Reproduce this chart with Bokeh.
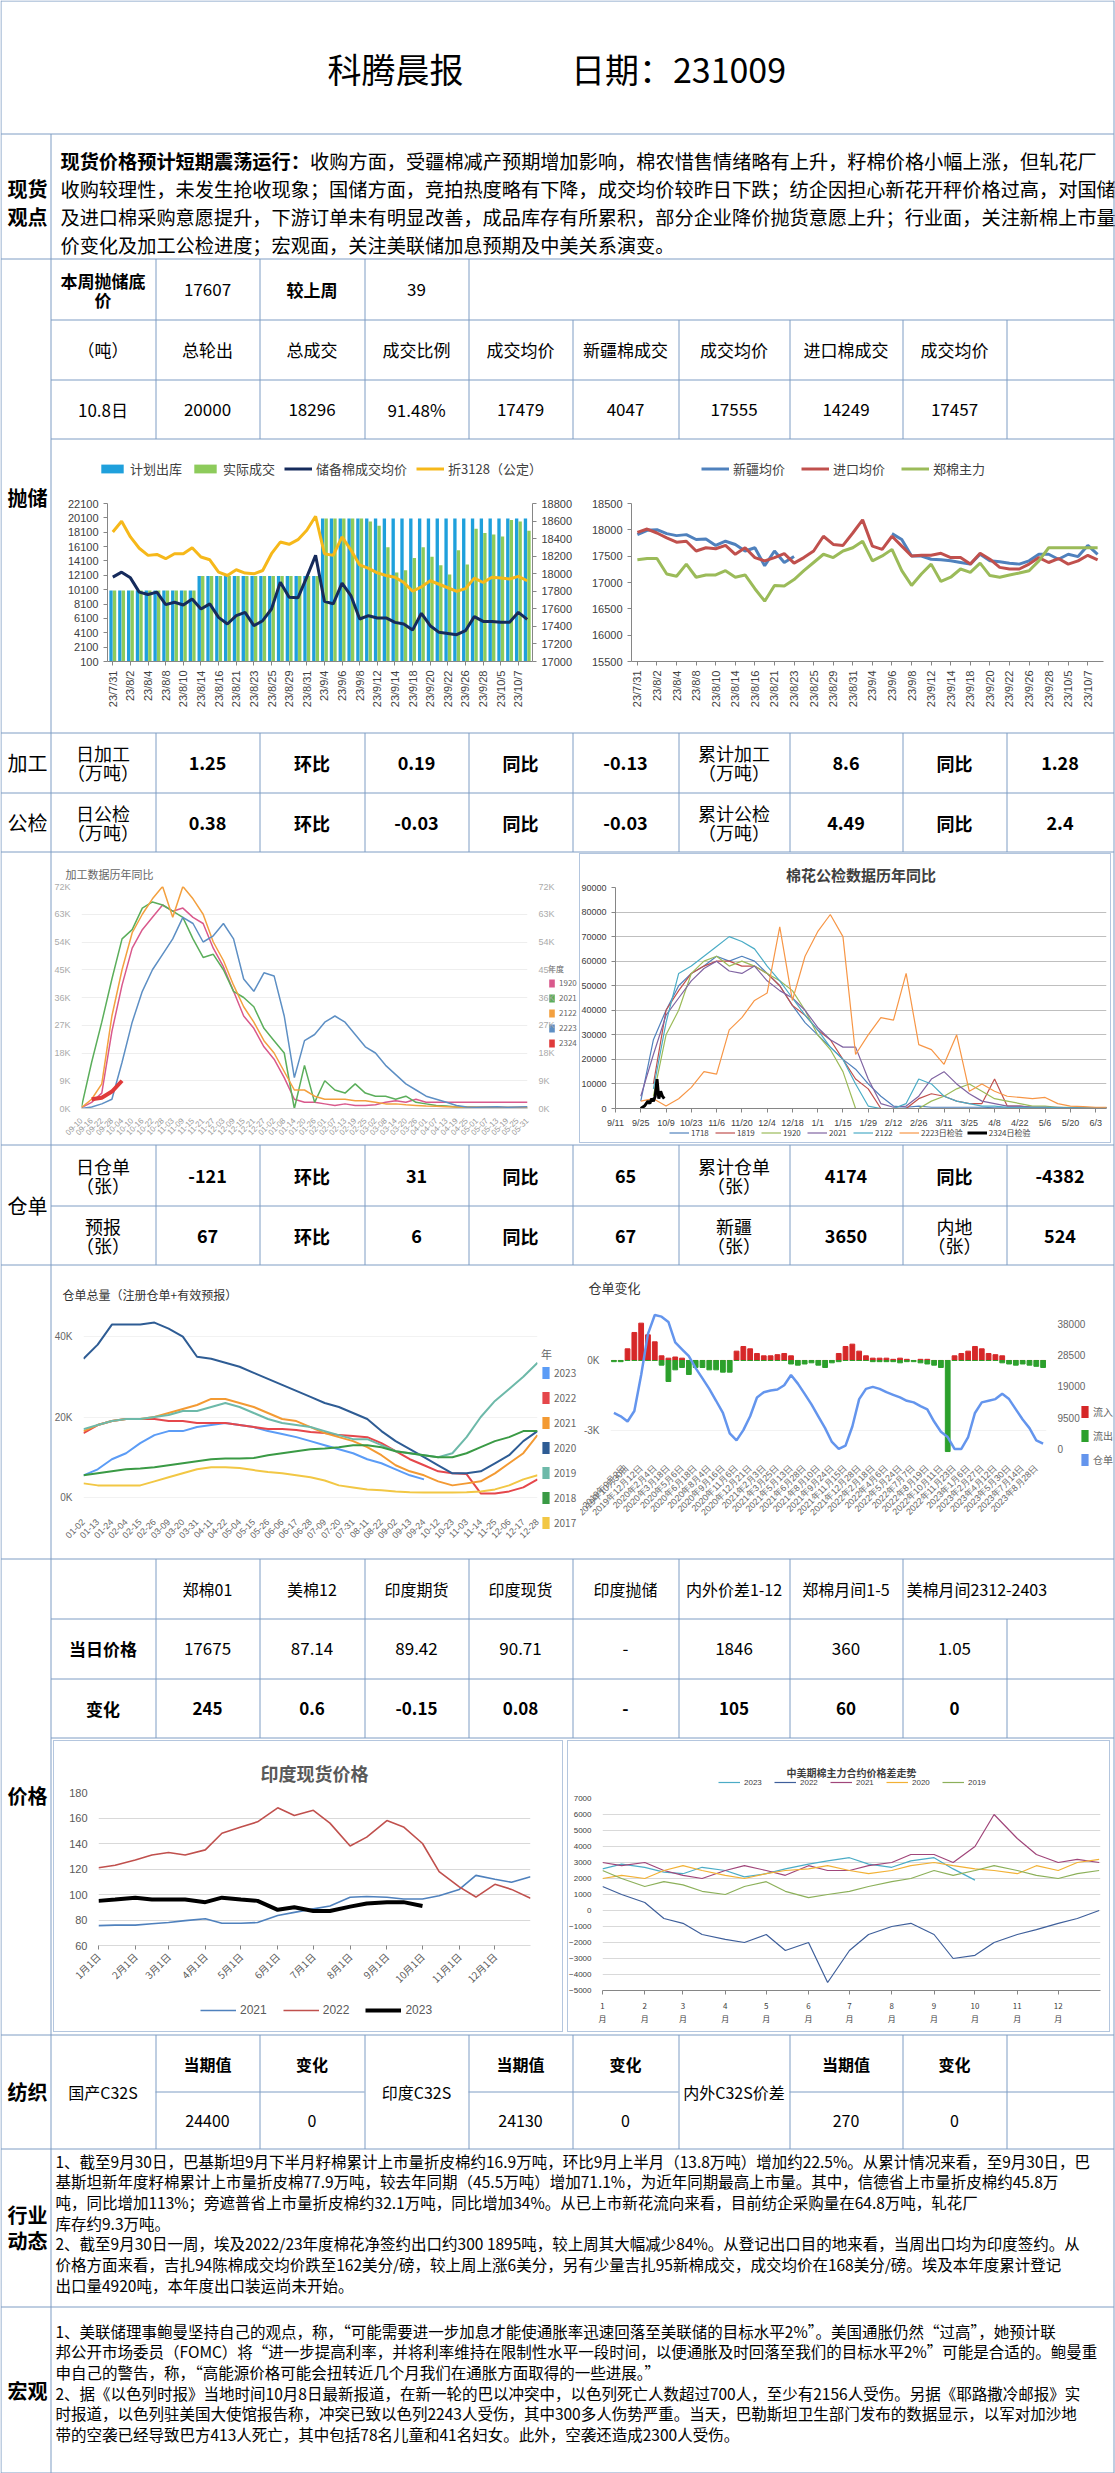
import math
import numpy as np
from bokeh.plotting import figure
from bokeh.models import Range1d, LinearAxis, FixedTicker, Legend, ColumnDataSource
from bokeh.transform import dodge
from bokeh.core.properties import value
from bokeh.embed import file_html
from bokeh.resources import INLINE

# ======================= DATA =======================
title_left = "科腾晨报"
title_right = "日期：231009"
spot_head = "现货价格预计短期震荡运行："
spot_lines = [
    "收购方面，受疆棉减产预期增加影响，棉农惜售情绪略有上升，籽棉价格小幅上涨，但轧花厂",
    "收购较理性，未发生抢收现象；国储方面，竞拍热度略有下降，成交均价较昨日下跌；纺企因担心新花开秤价格过高，对国储",
    "及进口棉采购意愿提升，下游订单未有明显改善，成品库存有所累积，部分企业降价抛货意愿上升；行业面，关注新棉上市量",
    "价变化及加工公检进度；宏观面，关注美联储加息预期及中美关系演变。",
]
reserve_row1 = ["本周抛储底\n价", "17607", "较上周", "39"]
reserve_head = ["（吨）", "总轮出", "总成交", "成交比例", "成交均价", "新疆棉成交", "成交均价", "进口棉成交", "成交均价"]
reserve_vals = ["10.8日", "20000", "18296", "91.48%", "17479", "4047", "17555", "14249", "17457"]
proc_row = ["日加工\n（万吨）", "1.25", "环比", "0.19", "同比", "-0.13", "累计加工\n（万吨）", "8.6", "同比", "1.28"]
insp_row = ["日公检\n（万吨）", "0.38", "环比", "-0.03", "同比", "-0.03", "累计公检\n（万吨）", "4.49", "同比", "2.4"]
wr_row1 = ["日仓单\n（张）", "-121", "环比", "31", "同比", "65", "累计仓单\n（张）", "4174", "同比", "-4382"]
wr_row2 = ["预报\n（张）", "67", "环比", "6", "同比", "67", "新疆\n（张）", "3650", "内地\n（张）", "524"]
price_head = ["", "郑棉01", "美棉12", "印度期货", "印度现货", "印度抛储", "内外价差1-12", "郑棉月间1-5", "美棉月间2312-2403"]
price_today = ["当日价格", "17675", "87.14", "89.42", "90.71", "-", "1846", "360", "1.05"]
price_chg = ["变化", "245", "0.6", "-0.15", "0.08", "-", "105", "60", "0"]
yarn_names = ["国产C32S", "印度C32S", "内外C32S价差"]
yarn_cur = ["24400", "24130", "270"]
yarn_chg = ["0", "0", "0"]
industry_lines = [
    "1、截至9月30日，巴基斯坦9月下半月籽棉累计上市量折皮棉约16.9万吨，环比9月上半月（13.8万吨）增加约22.5%。从累计情况来看，至9月30日，巴",
    "基斯坦新年度籽棉累计上市量折皮棉77.9万吨，较去年同期（45.5万吨）增加71.1%，为近年同期最高上市量。其中，信德省上市量折皮棉约45.8万",
    "吨，同比增加113%；旁遮普省上市量折皮棉约32.1万吨，同比增加34%。从已上市新花流向来看，目前纺企采购量在64.8万吨，轧花厂",
    "库存约9.3万吨。",
    "2、截至9月30日一周，埃及2022/23年度棉花净签约出口约300 1895吨，较上周其大幅减少84%。从登记出口目的地来看，当周出口均为印度签约。从",
    "价格方面来看，吉扎94陈棉成交均价跌至162美分/磅，较上周上涨6美分，另有少量吉扎95新棉成交，成交均价在168美分/磅。埃及本年度累计登记",
    "出口量4920吨，本年度出口装运尚未开始。",
]
macro_lines = [
    "1、美联储理事鲍曼坚持自己的观点，称，“可能需要进一步加息才能使通胀率迅速回落至美联储的目标水平2%”。美国通胀仍然“过高”，她预计联",
    "邦公开市场委员（FOMC）将“进一步提高利率，并将利率维持在限制性水平一段时间，以便通胀及时回落至我们的目标水平2%”可能是合适的。鲍曼重",
    "申自己的警告，称，“高能源价格可能会扭转近几个月我们在通胀方面取得的一些进展。”",
    "2、据《以色列时报》当地时间10月8日最新报道，在新一轮的巴以冲突中，以色列死亡人数超过700人，至少有2156人受伤。另据《耶路撒冷邮报》实",
    "时报道，以色列驻美国大使馆报告称，冲突已致以色列2243人受伤，其中300多人伤势严重。当天，巴勒斯坦卫生部门发布的数据显示，以军对加沙地",
    "带的空袭已经导致巴方413人死亡，其中包括78名儿童和41名妇女。此外，空袭还造成2300人受伤。",
]

# --- reserve auction chart (A) & spot prices (B)
pc_dates = ["23/7/31", "23/8/1", "23/8/2", "23/8/3", "23/8/4", "23/8/7", "23/8/8", "23/8/9", "23/8/10", "23/8/11",
            "23/8/14", "23/8/15", "23/8/16", "23/8/18", "23/8/21", "23/8/22", "23/8/23", "23/8/24", "23/8/25", "23/8/28",
            "23/8/29", "23/8/30", "23/8/31", "23/9/1", "23/9/4", "23/9/5", "23/9/6", "23/9/7", "23/9/8", "23/9/11",
            "23/9/12", "23/9/13", "23/9/14", "23/9/15", "23/9/18", "23/9/19", "23/9/20", "23/9/21", "23/9/22", "23/9/25",
            "23/9/26", "23/9/27", "23/9/28", "23/10/4", "23/10/5", "23/10/6", "23/10/7", "23/10/8"]
plan_out = [10000, 10000, 10000, 10000, 10000, 10000, 10000, 10000, 10000, 10000,
            12000, 12000, 12000, 12000, 12000, 12000, 12000, 12000, 12000, 12000,
            12000, 12000, 12000, 12000, 20000, 20000, 20000, 20000, 20000, 20000,
            20000, 20000, 20000, 20000, 20000, 20000, 20000, 20000, 20000, 20000,
            20000, 20000, 20000, 20000, 20000, 20000, 20000, 20000]
deal_out = [10000, 10000, 10000, 10000, 10000, 10000, 10000, 10000, 10000, 10000,
            12000, 12000, 12000, 12000, 12000, 12000, 12000, 12000, 12000, 12000,
            12000, 12000, 12000, 12000, 20000, 20000, 20000, 20000, 20000, 19600,
            19000, 16000, 12500, 12800, 14500, 16000, 14700, 13500, 12200, 15600,
            13600, 18600, 18000, 17800, 17500, 19800, 19600, 18296]
avg_price = [17961, 18018, 17953, 17790, 17763, 17790, 17648, 17675, 17644, 17713,
             17598, 17656, 17503, 17427, 17522, 17560, 17408, 17465, 17598, 17904,
             17732, 17725, 17961, 18209, 17686, 17656, 17892, 17751, 17484, 17522,
             17496, 17496, 17446, 17427, 17358, 17549, 17408, 17332, 17320, 17305,
             17351, 17511, 17457, 17457, 17446, 17446, 17560, 17479]
p3128 = [18476, 18598, 18419, 18290, 18209, 18220, 18171, 18228, 18228, 18297,
         18190, 18159, 18018, 17980, 18045, 18007, 17999, 18037, 18228, 18361,
         18335, 18388, 18495, 18655, 18228, 18209, 18420, 18270, 18100, 18060,
         18010, 17980, 17960, 17900, 17800, 17850, 17920, 17880, 17840, 17800,
         17830, 17950, 17900, 17960, 17950, 17940, 17970, 17920]
xj_price = [17909, 17990, 18003, 17928, 17890, 17909, 17816, 17828, 17704, 17784,
            17722, 17598, 17660, 17318, 17598, 17380, 17492, None, None, None,
            None, None, None, None, None, None, 17928, 17816, 17504, 17504,
            17442, 17430, 17411, 17380, 17349, 17536, 17411, 17392, 17367, 17349,
            17411, 17536, 17536, 17442, 17536, 17492, 17704, 17536]
imp_price = [17952, 18015, 17940, 17847, 17766, 17784, 17598, 17660, 17641, 17704,
             17536, 17660, 17473, 17411, 17473, 17548, 17367, 17473, 17598, 17878,
             17722, 17704, 17940, 18189, 17691, 17629, 17878, 17691, 17504, 17517,
             17517, 17554, 17473, 17473, 17349, 17554, 17442, 17287, 17256, 17256,
             17349, 17473, 17380, 17455, 17349, 17411, 17517, 17430]
zc_main = [17430, 17455, 17455, 17162, 17118, 17349, 17100, 17143, 17143, 17224,
           17100, 17143, 16882, 16645, 16944, 16932, 17056, 17224, 17380, 17536,
           17473, 17598, 17660, 17784, 17411, 17504, 17629, 17224, 16944, 17162,
           17349, 17019, 17100, 17256, 17193, 17367, 17131, 17100, 17143, 17180,
           17224, 17411, 17660, 17660, 17660, 17660, 17660, 17660]
a_left_ticks = [100, 2100, 4100, 6100, 8100, 10100, 12100, 14100, 16100, 18100, 20100, 22100]
a_right_ticks = [17000, 17200, 17400, 17600, 17800, 18000, 18200, 18400, 18600, 18800]
b_ticks = [15500, 16000, 16500, 17000, 17500, 18000, 18500]

# --- processing chart (C), thousand tons
c_dates = ["09-10", "09-16", "09-22", "09-28", "10-04", "10-10", "10-16", "10-22", "10-28", "11-03", "11-09",
           "11-15", "11-21", "11-27", "12-03", "12-09", "12-15", "12-21", "12-27", "01-02", "01-08", "01-14",
           "01-20", "01-26", "02-01", "02-07", "02-13", "02-19", "02-25", "03-02", "03-08", "03-14", "03-20",
           "03-26", "04-01", "04-07", "04-13", "04-19", "04-25", "05-01", "05-07", "05-13", "05-19", "05-25", "05-31"]
c_1920 = [0.3, 2, 5, 25, 40, 52, 58, 62, 66,
          64, 65, 62, 60, 52, 46, 38, 30, 26,
          20, 16, 10, 3, 2, 2, 1.5, 1, 1.5, 1,
          1, 1.2, 2, 2.5, 2, 3, 2, 2, 2, 2,
          2, 2, 2, 2, 2, 2, 2]
c_2021 = [0.5, 15, 28, 42, 55, 58, 65, 67, 66,
          64, 62, 55, 49, 50, 45, 38, 36, 33,
          26, 22, 18, 0, 14, 2, 9, 6, 5, 8,
          5, 4, 4, 3, 4, 2, 1.5, 1, 0.8, 0.5,
          0.5, 0.3, 0.3, 0.3, 0.2, 0.2, 0.2]
c_2122 = [0.3, 3, 8, 30, 45, 57, 63, 68, 72,
          62, 72, 68, 63, 54, 48, 40, 33, 28,
          22, 18, 12, 6, 6, 4, 3, 3, 3, 2.5,
          2.5, 2, 1.5, 1.5, 1.2, 1, 0.8, 0.7, 0.6, 0.5,
          0.5, 0.5, 0.5, 0.4, 0.4, 0.4, 0.4]
c_2223 = [0, 0.5, 1.5, 3, 15, 28, 38, 45, 50,
          55, 62, 60, 54, 56, 60, 55, 42, 38,
          44, 43, 30, 10, 22, 24, 28, 30, 28, 24,
          20, 18, 14, 11, 8, 6, 4, 3, 2, 1,
          0.5, 0.4, 0.5, 0.6, 0.4, 0.5, 0.6]
c_2324 = [None, 3, 3.5, 5.5, 9]
c_ticks = [0, 9, 18, 27, 36, 45, 54, 63, 72]

# --- public inspection chart (D), thousand tons, weekly from 9/11
d_labels = ["9/11", "9/25", "10/9", "10/23", "11/6", "11/20", "12/4", "12/18", "1/1", "1/15",
            "1/29", "2/12", "2/26", "3/11", "3/25", "4/8", "4/22", "5/6", "5/20", "6/3"]
d_1718 = [None, None, 3, 28, 40, 50, 55, 58, 62, 60,
          62, 60, 55, 50, 42, 35, 30, 25, 20, 16,
          10, 5, 1, 0.5, 1, 0.5, 0.5, 0.5, 0.5, 0.5,
          0.3, 0.3, 0.3, 0.3, 0.3, 0.3, 0.2, 0.2, 0.2, 0.2]
d_1819 = [None, None, None, 10, 40, 48, 55, 58, 60, 60,
          58, 58, 55, 50, 42, 38, 32, 28, 20, 12,
          8, 0, 0, 0, 4, 6, 5, 3, 2, 2,
          12, 1, 1, 0.5, 0.5, 0.3, 0.3, 0.3, 0.3, 0.3]
d_1920 = [None, None, None, 5, 30, 40, 55, 60, 62, 58,
          60, 58, 55, 52, 48, 40, 30, 24, 15, 0,
          0, 0, 0, 0, 0, 3, 5, 8, 10, 7,
          4, 3, 2, 1, 1, 0.5, 0.5, 0.5, 0.3, 0.3]
d_2021 = [None, None, 5, 22, 38, 45, 52, 57, 60, 56,
          55, 58, 52, 48, 45, 40, 33, 28, 25, 25,
          12, 2, 0.5, 1, 5, 12, 15, 10, 6, 3,
          2, 1, 1, 0.5, 0.5, 0.5, 0.3, 0.3, 0.3, 0.3]
d_2122 = [None, None, None, 8, 35, 55, 58, 62, 66, 70,
          68, 65, 58, 52, 45, 38, 32, 25, 20, 10,
          1, 0, 0, 2, 12, 10, 5, 3, 2, 1,
          1, 0.5, 0.5, 0.5, 0.5, 0.3, 0.3, 0.3, 0.3, 0.3]
d_2223 = [None, None, 3, 4, 1, 4, 8.6, 15, 14, 32,
          37, 44, 47, 74, 44, 62, 72, 79, 70, 22,
          30, 37, 36, 55, 26, 24, 18, 30, 7, 10,
          7, 5, 4.5, 4, 4.5, 2, 1, 0.8, 0.5, 0.5]
d_2324_days = [14, 16, 18, 19, 20, 21, 22, 23, 24, 25, 26, 27]
d_2324 = [0, 1, 3, 2, 4, 3, 5, 12, 4, 7, 5, 4]
d_ticks = [0, 10, 20, 30, 40, 50, 60, 70, 80, 90]

# --- warehouse receipts total (E), thousand
e_dates = ["01-02", "01-13", "01-24", "02-04", "02-15", "02-26", "03-09", "03-20", "03-31", "04-11", "04-22",
           "05-04", "05-15", "05-26", "06-06", "06-17", "06-28", "07-09", "07-20", "07-31", "08-11", "08-22",
           "09-02", "09-13", "09-24", "10-12", "10-23", "11-03", "11-14", "11-25", "12-06", "12-17", "12-28"]
wr_2023 = [5.5, 7, 9.5, 11, 13.5, 15.5, 16.5, 16.5, 17.5, 18, 18.5, 18, 17.5, 16.5, 15.8, 15, 14, 13, 12, 11,
           9.5, 8.5, 7, 5.5, 4.5]
wr_2022 = [16, 18, 19, 19.5, 19.5, 19.5, 19, 19, 18.5, 18.5, 18.5, 18, 17.5, 17, 17, 16.8, 16.3,
           16, 15.5, 15.3, 15, 13.5, 11.5, 9.5, 8, 6.5, 6, 5.8, 1, 1, 1.5, 2.5, 4.5]
wr_2021 = [16.5, 18, 19, 19.5, 19.5, 20, 21, 22, 23, 24.5, 24.5, 23.5, 22.5, 21, 19.5, 19, 17.5,
           16, 15, 14, 12.5, 10.5, 8, 6.5, 5.5, 4, 3, 3.5, 4, 6, 8.5, 11, 15.5]
wr_2020 = [34.5, 38, 43, 43, 43, 43.5, 42, 40, 35, 34.5, 33.5, 32.5, 31, 29.5, 28, 26.5, 25,
           23.5, 22.5, 21, 19.5, 16.5, 14, 12, 10, 8, 6, 6, 6.5, 8.5, 10.5, 14, 16.5]
wr_2019 = [17, 18, 19, 19.5, 19.5, 20, 20.5, 21.5, 21.5, 22.5, 23.5, 22.5, 21, 19.5, 18.5, 18, 17.5,
           16.5, 15.5, 14.5, 14.5, 13, 11.5, 11, 10.5, 10, 11, 15, 20, 24, 27, 30, 33.5]
wr_2018 = [5.5, 6, 6.5, 7, 7.2, 7.5, 8, 8.5, 9, 9.5, 9.7, 9.7, 9.8, 10.5, 11, 11.5, 12,
           12.2, 12.5, 13, 13, 12.5, 11.5, 11, 10.5, 10, 10, 11, 12.5, 14, 15, 16.5, 16.5]
wr_2017 = [3.5, 3, 3, 3, 3, 4, 5, 6, 7, 7.5, 7.5, 7.3, 6.8, 6.3, 6, 5.5, 5,
           4.2, 3, 2.5, 2, 1.8, 1.5, 1.3, 1.2, 1.2, 1.2, 1.3, 1.5, 2, 3, 4.5, 5.5]
e_years = ["2023", "2022", "2021", "2020", "2019", "2018", "2017"]

# --- warehouse receipt changes (F), thousand
f_labels = ["2019年9月2日", "2019年10月30日", "2019年12月12日", "2020年2月4日", "2020年3月18日", "2020年5月6日",
            "2020年6月18日", "2020年8月4日", "2020年9月16日", "2020年11月6日", "2020年12月21日", "2021年2月3日",
            "2021年3月25日", "2021年5月13日", "2021年6月28日", "2021年8月10日", "2021年9月24日", "2021年11月15日",
            "2021年12月28日", "2022年2月18日", "2022年4月6日", "2022年5月24日", "2022年7月7日", "2022年8月19日",
            "2022年10月11日", "2022年11月23日", "2023年1月6日", "2023年2月27日", "2023年4月12日", "2023年5月30日",
            "2023年7月14日", "2023年8月28日"]
f_in = [0, 0, 0.5, 1.2, 1.6, 1.1, 0.8, 0.2,
        0.1, 0.15, 0.1, 0, 0, 0, 0, 0,
        0, 0, 0.4, 0.6, 0.5, 0.3, 0.2, 0.2,
        0.25, 0.3, 0.2, 0, 0, 0, 0, 0,
        0, 0.3, 0.6, 0.7, 0.4, 0.2, 0.1, 0.1,
        0.1, 0.05, 0.1, 0.05, 0, 0.05, 0.05, 0,
        0, 0, 0.2, 0.3, 0.4, 0.6, 0.5, 0.3,
        0.25, 0.2, 0, 0, 0, 0, 0, 0]
f_out = [-0.05, -0.05, 0, 0, 0, 0, 0, -0.2,
         -0.9, -0.4, -0.3, -0.6, -0.3, -0.3, -0.4, -0.4,
         -0.5, -0.5, 0, 0, 0, 0, 0, 0,
         0, 0, -0.15, -0.2, -0.15, -0.1, -0.2, -0.3,
         -0.1, -0.05, 0, 0, 0, 0, -0.05, -0.05,
         -0.05, -0.05, -0.1, -0.05, -0.05, -0.1, -0.15, -0.2,
         -0.3, -3.9, 0, 0, 0, 0, 0, 0,
         0, -0.1, -0.15, -0.2, -0.15, -0.2, -0.25, -0.3]
f_total = [10.9, 9.9, 8.3, 11.5, 22.4, 34.9, 40.6, 40.1,
           38.5, 32.3, 30.2, 28.1, 24.5, 21.4, 18.2, 14.6,
           10.9, 4.7, 2.6, 5.7, 9.9, 15.6, 17.2, 17.7,
           18.0, 19.3, 22.4, 19.8, 16.7, 13.5, 9.9, 6.3,
           2.1, 0.0, 1.0, 6.8, 15.1, 18.2, 18.8, 18.2,
           17.2, 16.4, 15.6, 14.6, 14.1, 13.0, 12.0, 8.3,
           5.2, 3.6, 0.0, 0.0, 3.6, 10.9, 14.1, 14.6,
           15.1, 16.7, 15.1, 12.0, 8.9, 6.3, 2.6, 1.6]
f_right_ticks = [0, 9.5, 19, 28.5, 38]

# --- India spot (G) & China-US spread (H)
month_days = [1, 32, 60, 91, 121, 152, 182, 213, 244, 274, 305, 335]
g_month_labels = ["1月1日", "2月1日", "3月1日", "4月1日", "5月1日", "6月1日", "7月1日", "8月1日", "9月1日", "10月1日", "11月1日", "12月1日"]
h_month_labels = ["1\n月", "2\n月", "3\n月", "4\n月", "5\n月", "6\n月", "7\n月", "8\n月", "9\n月", "10\n月", "11\n月", "12\n月"]
g_days = [1, 15, 32, 46, 60, 74, 91, 105, 121, 135, 152, 166, 182, 196, 213, 227, 244, 258, 274, 288, 305, 319, 335, 349, 365]
g_2021 = [75.6, 76, 76, 77, 78, 79.5, 81, 77.5, 77.5, 78, 83.5, 86, 88.7, 91, 97.8, 98.4, 97.8, 96.5, 96.5, 99, 104, 115, 112, 109.6, 114]
g_2022 = [121, 123, 127, 131, 133, 131, 135, 148, 153, 157, 168, 162, 166, 156, 138, 145, 158, 153, 140, 118, 106, 98, 108, 104, 97]
g_2023 = [95, 96, 97.5, 96, 96, 96, 94, 97.5, 96, 95, 88, 90, 87, 87, 90.5, 93, 94, 94, 91]
g_ticks = [60, 80, 100, 120, 140, 160, 180]
h_2023 = [2600, 2900, 2700, 2400, 2300, 2700, 2500, 2100, 2300, 2600, 2900, 3100, 3300, 2900, 2700, 3100, 3300, 2600, 1900]
h_2022 = [1500, 1000, 500, -500, -800, -1500, -1800, -2000, -1500, -2500, -2000, -4500, -2500, -1500, -1000, -800, -1500, -3000, -2800, -2000, -1500, -1200, -800, -500, 0]
h_2021 = [3000, 2800, 3000, 2500, 2200, 2000, 2500, 2800, 2500, 2200, 2800, 2500, 2500, 2800, 3000, 3500, 3500, 3000, 4000, 6000, 4500, 3500, 3000, 3200, 3000]
h_2020 = [2000, 2200, 2000, 2500, 2800, 2500, 2200, 2000, 2300, 2500, 2600, 2800, 2500, 2300, 2500, 2800, 3000, 2800, 2600, 2500, 2300, 2800, 2500, 3000, 3200]
h_2019 = [2500, 2000, 1500, 1800, 1600, 1200, 1000, 1500, 1800, 1200, 800, 1000, 1200, 1500, 1800, 2000, 2500, 2200, 2500, 2800, 2500, 2200, 2000, 2300, 2500]
h_ticks = [-5000, -4000, -3000, -2000, -1000, 0, 1000, 2000, 3000, 4000, 5000, 6000, 7000]

# series colours
A_COL = {"plan": "#1FA0DC", "deal": "#8DCB5B", "avg": "#162B5C", "p3128": "#F6B81A"}
B_COL = ["#4F81BD", "#C0504D", "#9BBB59"]
C_COL = ["#D9598C", "#5BAE5B", "#F3A03F", "#5D8FC4", "#E03A3A"]
D_COL = ["#4F81BD", "#C0504D", "#9BBB59", "#8064A2", "#4BACC6", "#F79646", "#000000"]
E_COL = ["#5B9CF6", "#E5474B", "#F39A33", "#2E5C94", "#6DB9A9", "#3A9A45", "#F2C744"]
F_COL = ["#D62728", "#2CA02C", "#6495ED"]
G_COL = ["#4F81BD", "#C0504D", "#000000"]
H_COL = ["#4BACC6", "#3E5F9B", "#A0467A", "#F2B134", "#8CB05A"]

# ======================= STYLE / LAYOUT =======================
FONT = "Noto Sans CJK SC"
NUMF = "Liberation Sans"
GRID = "#7F9DC4"
PW, PH = 1115, 2473
COLS = [50, 155, 259, 364, 468, 572, 678, 789, 902, 1006, 1113]
CEN = [(COLS[i] + COLS[i + 1]) / 2 for i in range(10)]
L0, R0, LAB = 0.5, 1113.5, 50.5
NAN = float("nan")


def arr(v):
    return np.array([np.nan if a is None else a for a in v], dtype=float)


def place(fig, x, y, extra=None):
    st = {"position": "absolute", "left": "%dpx" % x, "top": "%dpx" % y}
    if extra:
        st.update(extra)
    fig.styles = st


# ---------- background page figure (tables, texts, borders, legends) ----------
bg = figure(width=PW, height=PH, x_range=Range1d(0, PW), y_range=Range1d(PH, 0),
            output_backend="svg", toolbar_location=None, min_border=0,
            x_axis_location=None, y_axis_location=None)
bg.grid.visible = False
bg.outline_line_color = None
bg.background_fill_color = "white"
bg.border_fill_color = "white"
place(bg, 0, 0)

SEGS = []


def hl(x0, x1, y):
    SEGS.append((x0, y, x1, y))


def vl(x, y0, y1):
    SEGS.append((x, y0, x, y1))


def txt(x, y, t, size="17px", bold=False, align="center", color="black", lh=20, font=FONT):
    lines = t.split("\n")
    n = len(lines)
    for k, s in enumerate(lines):
        bg.text(x=[x], y=[y + (k - (n - 1) / 2) * lh], text=[s], text_align=align, text_baseline="middle",
                text_font=value(font), text_font_size=size, text_font_style="bold" if bold else "normal",
                text_color=color)


def cell_row(cells, yc, size="17px", boldfun=None, start=0):
    for i, t in enumerate(cells):
        if t == "":
            continue
        b = boldfun(t, i) if boldfun else False
        txt(CEN[start + i], yc, t, size=size, bold=b, lh=19)


# outer frame + label column
vl(L0, 0, PH); vl(R0, 0, PH); hl(L0, R0, 0.5); hl(L0, R0, PH - 0.5)
vl(LAB, 133.5, PH)
# header / spot view
hl(L0, R0, 133.5); hl(L0, R0, 258.5)
txt(395, 68, title_left, size="34px")
txt(678, 68, title_right, size="34px")
txt(27, 202, "现货\n观点", size="20px", bold=True, lh=28)
SP = 19.2
for k, line in enumerate(spot_lines):
    yy = 160 + k * 28
    if k == 0:
        txt(60, yy, spot_head, size="19.2px", bold=True, align="left")
        txt(60 + len(spot_head) * SP, yy, line, size="19.2px", align="left")
    else:
        txt(60, yy, line, size="19.2px", align="left")
# reserve table
hl(LAB, R0, 319.5); hl(LAB, R0, 379.5); hl(LAB, R0, 438.5)
for i in range(1, 5):
    vl(COLS[i] + 0.5, 258.5, 319.5)
for i in range(1, 10):
    vl(COLS[i] + 0.5, 319.5, 438.5)
cell_row(reserve_row1, 289, boldfun=lambda t, i: i in (0, 2))
cell_row(reserve_head, 349)
cell_row(reserve_vals, 409)
txt(27, 497, "抛储", size="20px", bold=True)
# processing / inspection
hl(L0, R0, 732.5); hl(L0, R0, 792.5); hl(L0, R0, 851.5)
for i in range(1, 10):
    vl(COLS[i] + 0.5, 732.5, 851.5)
txt(27, 762, "加工", size="20px")
txt(27, 822, "公检", size="20px")
bf = lambda t, i: "\n" not in t
cell_row(proc_row, 762, size="18px", boldfun=bf)
cell_row(insp_row, 822, size="18px", boldfun=bf)
# warehouse receipts
hl(L0, R0, 1144.5); hl(LAB, R0, 1205.5); hl(L0, R0, 1264.5)
for i in range(1, 10):
    vl(COLS[i] + 0.5, 1144.5, 1264.5)
txt(27, 1205, "仓单", size="20px")
cell_row(wr_row1, 1175, size="18px", boldfun=bf)
cell_row(wr_row2, 1235, size="18px", boldfun=bf)
# price table
hl(L0, R0, 1558.5); hl(LAB, R0, 1618.5); hl(LAB, R0, 1678.5); hl(LAB, R0, 1737.5)
for i in range(1, 9):
    vl(COLS[i] + 0.5, 1558.5, 1737.5)
vl(COLS[9] + 0.5, 1618.5, 1737.5)
cell_row(price_head[:8], 1588, size="16px")
txt(COLS[8] + 4, 1588, price_head[8], size="16px", align="left")
cell_row(price_today, 1648, size="17px", boldfun=lambda t, i: i == 0)
cell_row(price_chg, 1708, size="17px", boldfun=lambda t, i: True)
txt(27, 1795, "价格", size="20px", bold=True)
# yarn table
hl(L0, R0, 2034.5); hl(L0, R0, 2148.5); hl(L0, R0, 2306.5)
hl(COLS[1], COLS[3], 2091.5); hl(COLS[4], COLS[6], 2091.5); hl(COLS[7], R0, 2091.5)
for i in range(1, 10):
    vl(COLS[i] + 0.5, 2034.5, 2148.5)
txt(27, 2091, "纺织", size="20px", bold=True)
for j in range(3):
    txt(CEN[3 * j], 2091, yarn_names[j], size="16px")
    txt(CEN[3 * j + 1], 2063, "当期值", size="16px", bold=True)
    txt(CEN[3 * j + 2], 2063, "变化", size="16px", bold=True)
    txt(CEN[3 * j + 1], 2120, yarn_cur[j], size="16px")
    txt(CEN[3 * j + 2], 2120, yarn_chg[j], size="16px")
txt(27, 2227, "行业\n动态", size="20px", bold=True, lh=26)
txt(27, 2390, "宏观", size="20px", bold=True)
for k, line in enumerate(industry_lines):
    txt(55, 2160 + k * 20.7, line, size="15.5px", align="left")
for k, line in enumerate(macro_lines):
    txt(55, 2330 + k * 20.7, line, size="15.5px", align="left")

bg.segment(x0=[s[0] for s in SEGS], y0=[s[1] for s in SEGS], x1=[s[2] for s in SEGS], y1=[s[3] for s in SEGS],
           line_color=GRID, line_width=1)


# ---------- legends (drawn on the page figure; charts are transparent above it) ----------
def key_line(c, w):
    return bg.line(x=[NAN, NAN], y=[NAN, NAN], line_color=c, line_width=w)


def key_box(c):
    return bg.quad(left=[NAN], right=[NAN], top=[NAN], bottom=[NAN], fill_color=c, line_color=None)


def page_legend(items, x, ybottom, orientation="horizontal", size="13px", gw=28, gh=10, lh=14, spacing=10,
                font=FONT, color="#404040", title=None, title_size="10px", standoff=4):
    lg = Legend(items=items, location=(x, PH - ybottom), orientation=orientation)
    lg.label_text_font = font
    lg.label_text_font_size = size
    lg.label_text_color = color
    lg.glyph_width = gw
    lg.glyph_height = gh
    lg.label_height = lh
    lg.spacing = spacing
    lg.padding = 0
    lg.margin = 0
    lg.label_standoff = standoff
    lg.border_line_color = None
    lg.background_fill_alpha = 0
    if title:
        lg.title = title
        lg.title_text_font = font
        lg.title_text_font_size = title_size
        lg.title_text_font_style = "normal"
        lg.title_text_color = color
        lg.title_standoff = 3
    bg.add_layout(lg, 'center')


page_legend([("计划出库", [key_box(A_COL["plan"])]), ("实际成交", [key_box(A_COL["deal"])]),
             ("储备棉成交均价", [key_line(A_COL["avg"], 3)]), ("折3128（公定）", [key_line(A_COL["p3128"], 3)])],
            98, 478, size="13px", gw=28, gh=11, lh=15, spacing=9)
page_legend([(l, [key_line(c, 3)]) for l, c in zip(["新疆均价", "进口均价", "郑棉主力"], B_COL)],
            701, 478, size="13px", gw=28, gh=11, lh=15, spacing=16)
page_legend([(l, [key_box(c)]) for l, c in zip(["1920", "2021", "2122", "2223", "2324"], C_COL)],
            548, 1048, orientation="vertical", size="8px", gw=7, gh=10, lh=10, spacing=4, color="#666666",
            title="年度", title_size="8px")
page_legend([(l, [key_line(c, 3 if c == "#000000" else 1.2)]) for l, c in
             zip(["1718", "1819", "1920", "2021", "2122", "2223日检验", "2324日检验"], D_COL)],
            669, 1138, size="8px", gw=20, gh=9, lh=11, spacing=4, standoff=2)
page_legend([(l, [key_box(c)]) for l, c in zip(e_years, E_COL)],
            541, 1530, orientation="vertical", size="10px", gw=9, gh=15, lh=15, spacing=10, color="#666666",
            title="年", title_size="11px")
page_legend([(l, [key_box(c)]) for l, c in zip(["流入", "流出", "仓单"], F_COL)],
            1080, 1467, orientation="vertical", size="10px", gw=9, gh=15, lh=15, spacing=9, color="#666666")
page_legend([(l, [key_line(c, 4 if c == "#000000" else 1.6)]) for l, c in zip(["2021", "2022", "2023"], G_COL)],
            200, 2017, size="12px", gw=36, gh=10, lh=13, spacing=16, font=NUMF, color="#595959")
page_legend([(l, [key_line(c, 1.2)]) for l, c in zip(["2023", "2022", "2021", "2020", "2019"], H_COL)],
            718, 1787, size="8px", gw=22, gh=8, lh=10, spacing=10, font=NUMF)


# ---------- chart helpers ----------
def base_fig(x0, y0, x1, y1, xr, yr, ml, mr, mt, mb, extra=None, **kw):
    p = figure(width=x1 - x0, height=y1 - y0, x_range=xr, y_range=yr, output_backend="svg", toolbar_location=None,
               min_border_left=ml, min_border_right=mr, min_border_top=mt, min_border_bottom=mb, **kw)
    p.outline_line_color = None
    p.background_fill_alpha = 0
    p.border_fill_alpha = 0
    place(p, x0, y0, extra)
    return p


def style_axis(ax, size="11px", color="#404040", font=NUMF, line=True, ticks=True):
    ax.major_label_text_font = font
    ax.major_label_text_font_size = size
    ax.major_label_text_color = color
    ax.minor_tick_line_color = None
    ax.axis_line_color = "#868686" if line else None
    if not ticks:
        ax.major_tick_line_color = None
    else:
        ax.major_tick_line_color = "#868686"
        ax.major_tick_in = 0
        ax.major_tick_out = 4


def set_title(p, size, color, align, offset, standoff, bold=True):
    p.title.text_font = FONT
    p.title.text_font_size = size
    p.title.text_font_style = "bold" if bold else "normal"
    p.title.text_color = color
    p.title.align = align
    p.title.offset = offset
    p.title.standoff = standoff


# ---------------- Chart A: reserve auction ----------------
srcA = ColumnDataSource(dict(x=list(range(len(pc_dates))), plan=plan_out, deal=deal_out, avg=avg_price, p3128=p3128))
pA = base_fig(51, 439, 575, 732, Range1d(-0.6, len(pc_dates) - 0.4), Range1d(100, 22100), 56, 39, 64, 71)
pA.extra_y_ranges = {"px": Range1d(17000, 18800)}
pA.vbar(x=dodge('x', -0.2), top='plan', bottom=0, width=0.38, source=srcA, fill_color=A_COL["plan"], line_color=None)
pA.vbar(x=dodge('x', 0.2), top='deal', bottom=0, width=0.38, source=srcA, fill_color=A_COL["deal"], line_color=None)
pA.line('x', 'p3128', source=srcA, y_range_name="px", line_color=A_COL["p3128"], line_width=3)
pA.line('x', 'avg', source=srcA, y_range_name="px", line_color=A_COL["avg"], line_width=3)
pA.grid.visible = False
pA.yaxis.ticker = FixedTicker(ticks=a_left_ticks)
pA.add_layout(LinearAxis(y_range_name="px", ticker=FixedTicker(ticks=a_right_ticks)), 'right')
pA.xaxis.ticker = FixedTicker(ticks=list(range(0, len(pc_dates), 2)))
pA.xaxis.major_label_overrides = {i: d for i, d in enumerate(pc_dates)}
pA.xaxis.major_label_orientation = math.pi / 2
for ax in pA.axis:
    style_axis(ax)

# ---------------- Chart B: spot prices ----------------
srcB = ColumnDataSource(dict(x=list(range(len(pc_dates))), xj=arr(xj_price), imp=imp_price, zc=zc_main))
pB = base_fig(575, 439, 1112, 732, Range1d(-0.6, len(pc_dates) - 0.4), Range1d(15500, 18500), 56, 9, 64, 71)
pB.line('x', 'xj', source=srcB, line_color=B_COL[0], line_width=3)
pB.line('x', 'imp', source=srcB, line_color=B_COL[1], line_width=3)
pB.line('x', 'zc', source=srcB, line_color=B_COL[2], line_width=3)
pB.grid.visible = False
pB.yaxis.ticker = FixedTicker(ticks=b_ticks)
pB.xaxis.ticker = FixedTicker(ticks=list(range(0, len(pc_dates), 2)))
pB.xaxis.major_label_overrides = {i: d for i, d in enumerate(pc_dates)}
pB.xaxis.major_label_orientation = math.pi / 2
for ax in pB.axis:
    style_axis(ax)

# ---------------- Chart C: processing ----------------
cx = list(range(len(c_dates)))
pC = base_fig(51, 852, 578, 1144, Range1d(0, len(c_dates) - 1), Range1d(0, 72), 24, 51, 34, 36, title="加工数据历年同比")
set_title(pC, "11px", "#666666", "left", -16, 10, bold=False)
for ser, c in zip([c_1920, c_2021, c_2122, c_2223], C_COL):
    pC.line(cx, ser, line_color=c, line_width=1.5)
pC.line(cx[:len(c_2324)], arr(c_2324), line_color=C_COL[4], line_width=4)
pC.xgrid.visible = False
pC.ygrid.ticker = FixedTicker(ticks=c_ticks)
pC.ygrid.grid_line_color = "#EEEEEE"
pC.yaxis.ticker = FixedTicker(ticks=c_ticks)
pC.yaxis.major_label_overrides = {t: "%dK" % t for t in c_ticks}
pC.add_layout(LinearAxis(ticker=FixedTicker(ticks=c_ticks), major_label_overrides={t: "%dK" % t for t in c_ticks}), 'right')
pC.xaxis.ticker = FixedTicker(ticks=cx)
pC.xaxis.major_label_overrides = {i: d for i, d in enumerate(c_dates)}
pC.xaxis.major_label_orientation = math.pi / 4
for ax in pC.yaxis:
    style_axis(ax, size="9px", color="#AAAAAA", line=False, ticks=False)
style_axis(pC.xaxis[0], size="8px", color="#999999", ticks=False)
pC.xaxis[0].axis_line_color = "#CCCCCC"

# ---------------- Chart D: public inspection ----------------
d_days = list(range(0, 7 * len(d_1718), 7))
pD = base_fig(578, 852, 1112, 1144, Range1d(0, 272), Range1d(0, 90), 36, 6, 35, 36, title="棉花公检数据历年同比",
              extra={"outline": "1px solid #B4C6DE", "outline-offset": "-2px"})
set_title(pD, "15px", "#404040", "center", -13, 6)
for ser, c in zip([d_1718, d_1819, d_1920, d_2021, d_2122, d_2223], D_COL):
    pD.line(d_days, arr(ser), line_color=c, line_width=1.2)
pD.line(d_2324_days, d_2324, line_color=D_COL[6], line_width=3)
pD.xgrid.visible = False
pD.ygrid.ticker = FixedTicker(ticks=d_ticks)
pD.ygrid.grid_line_color = "#BFBFBF"
pD.yaxis.ticker = FixedTicker(ticks=d_ticks)
pD.yaxis.major_label_overrides = {t: str(t * 1000) for t in d_ticks}
pD.xaxis.ticker = FixedTicker(ticks=list(range(0, 14 * len(d_labels), 14)))
pD.xaxis.major_label_overrides = {14 * i: d for i, d in enumerate(d_labels)}
for ax in pD.axis:
    style_axis(ax, size="9px", color="#404040")

# ---------------- Chart E: warehouse receipts total ----------------
ex = list(range(len(e_dates)))
pE = base_fig(51, 1265, 580, 1558, Range1d(0, len(e_dates) - 1), Range1d(-3, 46), 22, 43, 47, 49,
              title="仓单总量（注册仓单+有效预报）")
set_title(pE, "12px", "#333333", "left", -21, 20, bold=False)
for ser, c in zip([wr_2023, wr_2022, wr_2021, wr_2020, wr_2019, wr_2018, wr_2017], E_COL):
    pE.line(ex[:len(ser)], ser, line_color=c, line_width=2)
pE.xgrid.visible = False
pE.ygrid.ticker = FixedTicker(ticks=[0, 20, 40])
pE.ygrid.grid_line_color = "#F2F2F2"
pE.yaxis.ticker = FixedTicker(ticks=[0, 20, 40])
pE.yaxis.major_label_overrides = {0: "0K", 20: "20K", 40: "40K"}
pE.xaxis.ticker = FixedTicker(ticks=ex)
pE.xaxis.major_label_overrides = {i: d for i, d in enumerate(e_dates)}
pE.xaxis.major_label_orientation = math.pi / 4
style_axis(pE.yaxis[0], size="10px", color="#666666", line=False, ticks=False)
style_axis(pE.xaxis[0], size="9px", color="#666666", line=False, ticks=False)

# ---------------- Chart F: warehouse receipt changes ----------------
fx = list(range(len(f_in)))
pF = base_fig(580, 1265, 1112, 1558, Range1d(-0.5, len(f_in) - 0.5), Range1d(-4.07, 2.57), 23, 66, 35, 103,
              title="仓单变化")
set_title(pF, "13px", "#333333", "left", -22, 8, bold=False)
pF.extra_y_ranges = {"wr": Range1d(-2, 45)}
pF.vbar(x=fx, top=f_in, bottom=0, width=0.7, color=F_COL[0])
pF.vbar(x=fx, top=f_out, bottom=0, width=0.7, color=F_COL[1])
pF.line(fx, f_total, y_range_name="wr", line_color=F_COL[2], line_width=2.5)
pF.xgrid.visible = False
pF.ygrid.ticker = FixedTicker(ticks=[-3, 0])
pF.ygrid.grid_line_color = "#F2F2F2"
pF.yaxis.ticker = FixedTicker(ticks=[-3, 0])
pF.yaxis.major_label_overrides = {0: "0K", -3: "-3K"}
pF.add_layout(LinearAxis(y_range_name="wr", ticker=FixedTicker(ticks=f_right_ticks),
                         major_label_overrides={t: str(int(t * 1000)) for t in f_right_ticks}), 'right')
pF.xaxis.ticker = FixedTicker(ticks=list(range(0, 2 * len(f_labels), 2)))
pF.xaxis.major_label_overrides = {2 * i: d for i, d in enumerate(f_labels)}
pF.xaxis.major_label_orientation = math.pi / 4
for ax in pF.yaxis:
    style_axis(ax, size="10px", color="#666666", line=False, ticks=False)
style_axis(pF.xaxis[0], size="9px", color="#666666", line=False, ticks=False)

# ---------------- Chart G: India spot ----------------
pG = base_fig(51, 1738, 565, 2034, Range1d(1, 365), Range1d(60, 180), 47, 35, 54, 89, title="印度现货价格",
              extra={"outline": "1px solid #B4C6DE", "outline-offset": "-3px"})
set_title(pG, "18px", "#595959", "center", 0, 14)
pG.line(g_days, g_2021, line_color=G_COL[0], line_width=1.6)
pG.line(g_days, g_2022, line_color=G_COL[1], line_width=1.6)
pG.line(g_days[:len(g_2023)], g_2023, line_color=G_COL[2], line_width=4)
pG.xgrid.visible = False
pG.ygrid.ticker = FixedTicker(ticks=g_ticks)
pG.ygrid.grid_line_color = "#D9D9D9"
pG.yaxis.ticker = FixedTicker(ticks=g_ticks)
pG.xaxis.ticker = FixedTicker(ticks=month_days)
pG.xaxis.major_label_overrides = {d: l for d, l in zip(month_days, g_month_labels)}
pG.xaxis.major_label_orientation = math.pi / 4
style_axis(pG.yaxis[0], size="11px", color="#595959", line=False, ticks=False)
style_axis(pG.xaxis[0], size="10px", color="#595959", font=FONT)
pG.xaxis[0].axis_line_color = "#D9D9D9"

# ---------------- Chart H: China-US spread ----------------
pH = base_fig(565, 1738, 1112, 2034, Range1d(1, 366), Range1d(-5000, 7000), 37, 12, 60, 44,
              title="中美期棉主力合约价格差走势",
              extra={"outline": "1px solid #B4C6DE", "outline-offset": "-3px"})
set_title(pH, "10px", "#404040", "center", 0, 37)
pH.line(g_days[:len(h_2023)], h_2023, line_color=H_COL[0], line_width=1.2)
for ser, c in zip([h_2022, h_2021, h_2020, h_2019], H_COL[1:]):
    pH.line(g_days, ser, line_color=c, line_width=1.2)
pH.xgrid.visible = False
pH.ygrid.ticker = FixedTicker(ticks=h_ticks)
pH.ygrid.grid_line_color = "#D9D9D9"
pH.yaxis.ticker = FixedTicker(ticks=h_ticks)
pH.xaxis.ticker = FixedTicker(ticks=month_days)
pH.xaxis.major_label_overrides = {d: l for d, l in zip(month_days, h_month_labels)}
style_axis(pH.yaxis[0], size="8px", color="#404040", line=False, ticks=False)
style_axis(pH.xaxis[0], size="8px", color="#404040", font=FONT)

roots = [bg, pA, pB, pC, pD, pE, pF, pG, pH]
open("out.html", "w").write(file_html(roots, INLINE))
